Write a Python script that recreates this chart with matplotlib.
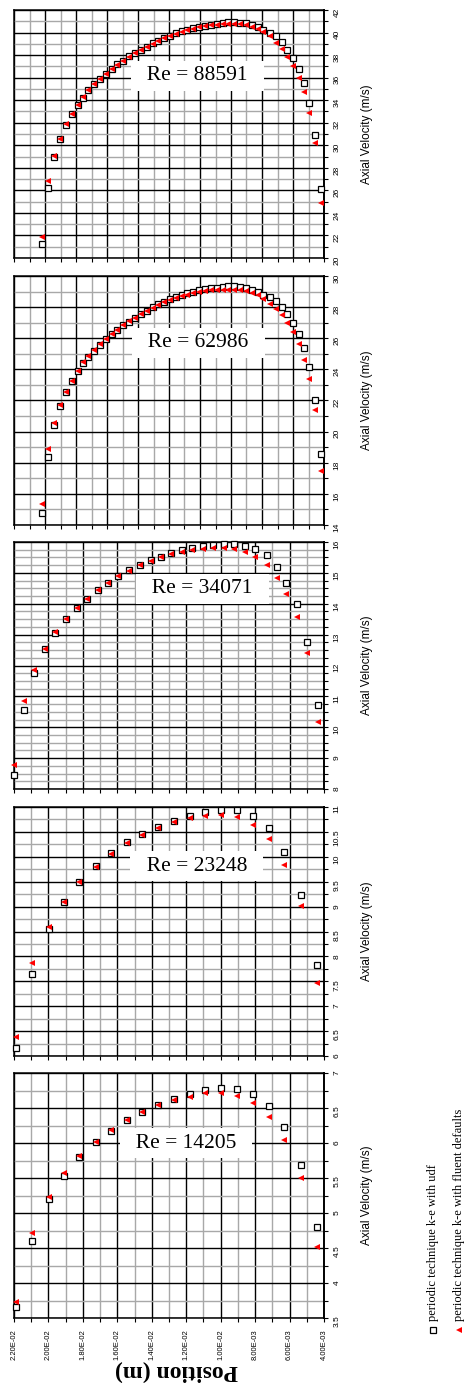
import matplotlib

matplotlib.use("Agg")
import matplotlib.pyplot as plt
from matplotlib import font_manager
from matplotlib.lines import Line2D
from matplotlib.ticker import FuncFormatter, MultipleLocator

# ---- data (position in m, axial velocity in m/s) ----
pos_low = [0.02188, 0.02094, 0.01997, 0.01908, 0.01821, 0.01726, 0.01637,
           0.01546, 0.01455, 0.01362, 0.01271, 0.01178, 0.01091, 0.01000,
           0.00904, 0.00811, 0.00718, 0.00632, 0.00533, 0.00439]

re14205_udf = [3.66, 4.60, 5.20, 5.53, 5.80, 6.01, 6.17, 6.33, 6.44, 6.54,
               6.63, 6.70, 6.76, 6.78, 6.77, 6.70, 6.53, 6.23, 5.69, 4.80]
re14205_fluent = [3.73, 4.71, 5.23, 5.57, 5.82, 6.02, 6.19, 6.33, 6.44, 6.54,
                  6.61, 6.66, 6.71, 6.71, 6.67, 6.57, 6.37, 6.04, 5.50, 4.52]

re23248_udf = [6.17, 7.65, 8.56, 9.10, 9.49, 9.81, 10.08, 10.29, 10.45, 10.60,
               10.72, 10.82, 10.90, 10.94, 10.94, 10.82, 10.58, 10.09, 9.24, 7.83]
re23248_fluent = [6.39, 7.87, 8.60, 9.10, 9.49, 9.80, 10.06, 10.28, 10.44, 10.58,
                  10.69, 10.77, 10.82, 10.84, 10.80, 10.64, 10.35, 9.84, 9.02, 7.46]

pos_mid = [0.02200, 0.02142, 0.02082, 0.02020, 0.01962, 0.01900, 0.01836,
           0.01774, 0.01711, 0.01653, 0.01594, 0.01532, 0.01468, 0.01406,
           0.01347, 0.01286, 0.01225, 0.01164, 0.01103, 0.01042, 0.00981,
           0.00920, 0.00859, 0.00798, 0.00733, 0.00675, 0.00619, 0.00555,
           0.00497, 0.00437]

re34071_udf = [8.46, 10.56, 11.77, 12.52, 13.06, 13.49, 13.85, 14.17, 14.44,
               14.68, 14.89, 15.09, 15.25, 15.41, 15.53, 15.64, 15.73, 15.80,
               15.86, 15.90, 15.92, 15.92, 15.88, 15.78, 15.58, 15.19, 14.68,
               13.98, 12.75, 10.72]
re34071_fluent = [8.79, 10.85, 11.85, 12.53, 13.07, 13.49, 13.85, 14.16, 14.44,
                  14.68, 14.89, 15.07, 15.25, 15.38, 15.50, 15.60, 15.68, 15.74,
                  15.78, 15.80, 15.80, 15.76, 15.66, 15.50, 15.25, 14.85, 14.33,
                  13.56, 12.39, 10.18]

pos_high = [0.02221, 0.02179, 0.02142, 0.02103, 0.02065, 0.02028, 0.01989,
            0.01953, 0.01921, 0.01882, 0.01845, 0.01806, 0.01770, 0.01734,
            0.01695, 0.01658, 0.01619, 0.01583, 0.01544, 0.01505, 0.01469,
            0.01432, 0.01394, 0.01357, 0.01318, 0.01282, 0.01243, 0.01205,
            0.01168, 0.01131, 0.01092, 0.01054, 0.01017, 0.00979, 0.00942,
            0.00903, 0.00866, 0.00828, 0.00792, 0.00748, 0.00710, 0.00673,
            0.00637, 0.00598, 0.00561, 0.00530, 0.00495, 0.00458, 0.00421]

re62986_udf = [14.79, 18.39, 20.43, 21.65, 22.55, 23.28, 23.90, 24.40, 24.82,
               25.21, 25.58, 25.94, 26.26, 26.54, 26.82, 27.07, 27.33, 27.57,
               27.78, 28.00, 28.19, 28.36, 28.53, 28.68, 28.79, 28.90, 29.00,
               29.07, 29.16, 29.22, 29.26, 29.31, 29.33, 29.33, 29.29, 29.22,
               29.11, 29.00, 28.79, 28.68, 28.41, 28.04, 27.55, 26.97, 26.28,
               25.40, 24.14, 22.04, 18.55]
re62986_fluent = [15.35, 18.87, 20.54, 21.72, 22.55, 23.28, 23.90, 24.45, 24.85,
                  25.25, 25.62, 25.96, 26.28, 26.56, 26.84, 27.08, 27.33, 27.55,
                  27.76, 27.96, 28.14, 28.30, 28.45, 28.58, 28.70, 28.80, 28.89,
                  28.96, 29.02, 29.07, 29.10, 29.12, 29.13, 29.12, 29.08, 29.02,
                  28.90, 28.75, 28.53, 28.21, 27.89, 27.50, 26.97, 26.37, 25.64,
                  24.61, 23.37, 21.40, 17.49]

re88591_udf = [21.21, 26.17, 28.96, 30.53, 31.83, 32.74, 33.54, 34.22, 34.87,
               35.40, 35.90, 36.35, 36.79, 37.17, 37.52, 37.88, 38.17, 38.47,
               38.76, 39.05, 39.29, 39.53, 39.73, 39.97, 40.12, 40.27, 40.42,
               40.53, 40.62, 40.71, 40.77, 40.86, 40.92, 40.92, 40.86, 40.83,
               40.71, 40.53, 40.24, 39.97, 39.67, 39.14, 38.47, 37.76, 36.73,
               35.52, 33.78, 30.95, 26.08]
re88591_fluent = [21.89, 26.81, 29.05, 30.60, 31.85, 32.80, 33.58, 34.25, 34.88,
                  35.42, 35.90, 36.35, 36.78, 37.15, 37.50, 37.85, 38.15, 38.45,
                  38.73, 39.00, 39.25, 39.48, 39.68, 39.88, 40.05, 40.20, 40.33,
                  40.45, 40.55, 40.63, 40.70, 40.75, 40.78, 40.78, 40.73, 40.65,
                  40.52, 40.33, 40.05, 39.70, 39.08, 38.50, 37.82, 37.02, 35.99,
                  34.72, 32.86, 30.24, 24.89]

legend_labels = ["periodic technique k-e with udf",
                 "periodic technique k-e with fluent defaults"]

FIG_W, FIG_H = 467, 1383

font_names = {f.name for f in font_manager.fontManager.ttflist}
SANS = "Liberation Sans Narrow" if "Liberation Sans Narrow" in font_names else "Liberation Sans"
SERIF = "Liberation Serif"


def draw_panel(fig, spec, show_xlabels):
    top, bottom = spec["px"]
    ax = fig.add_axes([14 / FIG_W, 1 - bottom / FIG_H, 310 / FIG_W, (bottom - top) / FIG_H])

    ax.plot(spec["pos"], spec["udf"], linestyle="none", marker="s", markersize=3.8,
            markerfacecolor="white", markeredgecolor="black", markeredgewidth=0.9,
            clip_on=False, zorder=4)
    ax.plot(spec["pos"], spec["fluent"], linestyle="none", marker="<", markersize=4.6,
            color="red", markeredgewidth=0, clip_on=False, zorder=5)

    ax.set_xlim(*spec["xlim"])
    ax.set_ylim(*spec["ylim"])
    ax.xaxis.set_major_locator(MultipleLocator(0.002))
    ax.xaxis.set_minor_locator(MultipleLocator(0.001))
    ax.yaxis.set_major_locator(MultipleLocator(spec["ymajor"]))
    ax.yaxis.set_minor_locator(MultipleLocator(spec["yminor"]))
    ax.xaxis.set_major_formatter(FuncFormatter(lambda v, _: f"{v:.2E}"))
    ax.yaxis.set_major_formatter(FuncFormatter(lambda v, _: f"{v:g}"))

    ax.set_axisbelow(True)
    ax.grid(which="minor", color="#a8a8a8", linewidth=1.0)
    ax.grid(which="major", color="black", linewidth=1.0)

    for side in ax.spines.values():
        side.set_color("black")
        side.set_linewidth(1.1)
    ax.spines["right"].set_linewidth(1.4)

    ax.yaxis.tick_right()
    ax.tick_params(axis="y", which="both", direction="out", length=3, width=0.8,
                   left=False, right=True, labelleft=False, labelright=True)
    ax.tick_params(axis="y", which="major", labelsize=6, labelrotation=90, pad=4)
    ax.tick_params(axis="x", which="both", direction="out", length=3, width=0.8,
                   bottom=True, top=False, labelbottom=show_xlabels)
    ax.tick_params(axis="x", which="major", labelsize=5.5, labelrotation=90, pad=5)
    for lab in ax.get_xticklabels() + ax.get_yticklabels():
        lab.set_fontfamily(SANS)

    ax.text(1.139, 0.5, "Axial Velocity (m/s)", transform=ax.transAxes, rotation=90,
            ha="center", va="center", fontsize=8.5, fontfamily=SANS)

    ax.text(spec["re_xy"][0], spec["re_xy"][1], f"  Re = {spec['re']}  ",
            transform=ax.transAxes, ha="center", va="center", fontsize=15.5,
            fontfamily=SERIF, zorder=6,
            bbox=dict(boxstyle="square,pad=0.25", facecolor="white", edgecolor="none"))
    return ax


def main() -> None:
    plt.rcParams["font.family"] = ["Liberation Sans", "DejaVu Sans"]
    fig = plt.figure(figsize=(FIG_W / 100, FIG_H / 100), dpi=100)

    panels = [
        dict(re=88591, pos=pos_high, udf=re88591_udf, fluent=re88591_fluent,
             xlim=(0.024, 0.004), ylim=(20, 42), ymajor=2, yminor=1,
             px=(10, 258), re_xy=(0.592, 0.734)),
        dict(re=62986, pos=pos_high, udf=re62986_udf, fluent=re62986_fluent,
             xlim=(0.024, 0.004), ylim=(14, 30), ymajor=2, yminor=1,
             px=(276, 525), re_xy=(0.595, 0.731)),
        dict(re=34071, pos=pos_mid, udf=re34071_udf, fluent=re34071_fluent,
             xlim=(0.022, 0.004), ylim=(8, 16), ymajor=1, yminor=0.25,
             px=(542, 789), re_xy=(0.608, 0.810)),
        dict(re=23248, pos=pos_low, udf=re23248_udf, fluent=re23248_fluent,
             xlim=(0.022, 0.004), ylim=(6, 11), ymajor=0.5, yminor=0.25,
             px=(807, 1056), re_xy=(0.590, 0.763)),
        dict(re=14205, pos=pos_low, udf=re14205_udf, fluent=re14205_fluent,
             xlim=(0.022, 0.004), ylim=(3.5, 7), ymajor=0.5, yminor=0.25,
             px=(1073, 1318), re_xy=(0.555, 0.714)),
    ]
    for i, spec in enumerate(panels):
        draw_panel(fig, spec, show_xlabels=(i == len(panels) - 1))

    fig.text(176 / FIG_W, 1 - 1371 / FIG_H, "Position (m)", rotation=180,
             ha="center", va="center", fontsize=17, fontweight="bold",
             fontfamily=SERIF)

    # rotated legend, drawn by hand
    marker_styles = [
        dict(marker="s", markersize=3.8, markerfacecolor="white",
             markeredgecolor="black", markeredgewidth=0.9),
        dict(marker="<", markersize=4.6, color="red", markeredgewidth=0),
    ]
    for x_px, label, style in zip([433, 459], legend_labels, marker_styles):
        fig.add_artist(Line2D([x_px / FIG_W], [1 - 1330 / FIG_H], linestyle="none",
                              transform=fig.transFigure, **style))
        fig.text(x_px / FIG_W, 1 - 1321 / FIG_H, label, rotation=90,
                 ha="center", va="bottom", fontsize=9, fontfamily=SERIF)

    fig.savefig("out.png", dpi=100)
    plt.close(fig)


if __name__ == "__main__":
    main()
